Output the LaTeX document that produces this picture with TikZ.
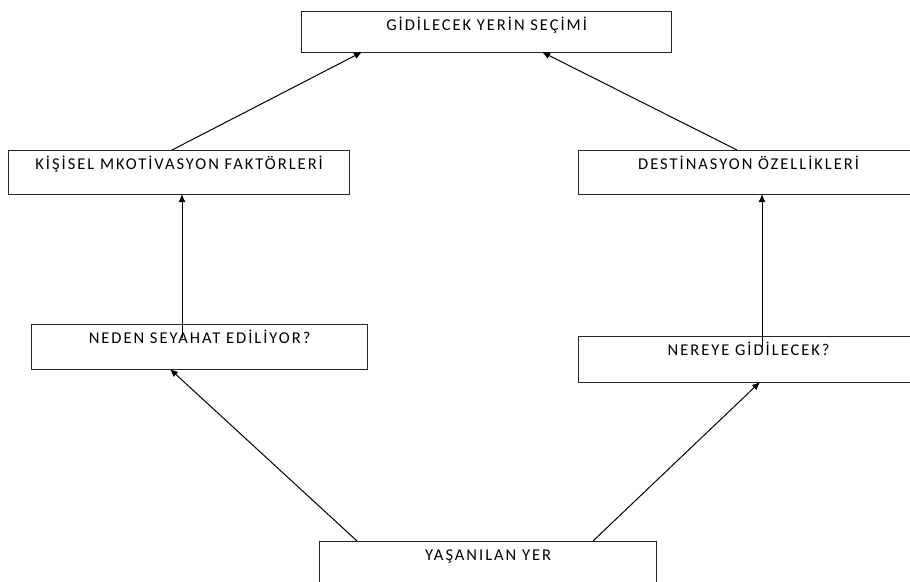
\documentclass[tikz,border=0pt]{standalone}
\usepackage{fontspec}
\setmainfont{Carlito}[LetterSpace=12]
\usetikzlibrary{arrows.meta,calc}
\tikzset{
  boxnode/.style={draw=black!85, line width=1.3pt, anchor=north west, inner xsep=0pt, inner ysep=0pt,
    text height=19pt, align=center, text=black, font=\fontsize{16.5pt}{18pt}\selectfont},
  conn/.style={draw=black, line width=1pt, -{Latex[length=8pt,width=7pt]}}
}
\begin{document}
\begin{tikzpicture}[x=1pt,y=-1pt]
\useasboundingbox (0,0) rectangle (910,581);
\clip (0,0) rectangle (910,581);
\fill[white] (0,0) rectangle (910,581);
\node[boxnode, minimum width=370pt, text depth=22pt] (top) at (301,11) {GİDİLECEK YERİN SEÇİMİ};
\node[boxnode, minimum width=341pt, text depth=25pt] (kis) at (8,150) {KİŞİSEL MKOTİVASYON FAKTÖRLERİ};
\node[boxnode, minimum width=340pt, text depth=25pt] (des) at (578,150) {DESTİNASYON ÖZELLİKLERİ};
\node[boxnode, minimum width=336pt, text depth=26pt] (ned) at (31,324) {NEDEN SEYAHAT EDİLİYOR?};
\node[boxnode, minimum width=340pt, text depth=27pt] (ner) at (578,336) {NEREYE GİDİLECEK?};
\node[boxnode, minimum width=337pt, text depth=50pt] (yas) at (319,541) {YAŞANILAN YER};
% connector end points
\coordinate (topL) at (362,52);
\coordinate (topR) at (542,52);
\coordinate (kisT) at (172,150);
\coordinate (desT) at (737,150);
\coordinate (kisB) at (182,194);
\coordinate (nedIn) at (182,338);
\coordinate (desB) at (762,194);
\coordinate (nerIn) at (762,347);
\coordinate (nedB) at (170,369);
\coordinate (nerB) at (760,382);
\coordinate (yasL) at (357,541);
\coordinate (yasR) at (593,541);
\draw[conn] (kisT) -- (topL);
\draw[conn] (desT) -- (topR);
\draw[conn] (nedIn) -- (kisB);
\draw[conn] (nerIn) -- (desB);
\draw[conn] (yasL) -- (nedB);
\draw[conn] (yasR) -- (nerB);
\end{tikzpicture}
\end{document}
